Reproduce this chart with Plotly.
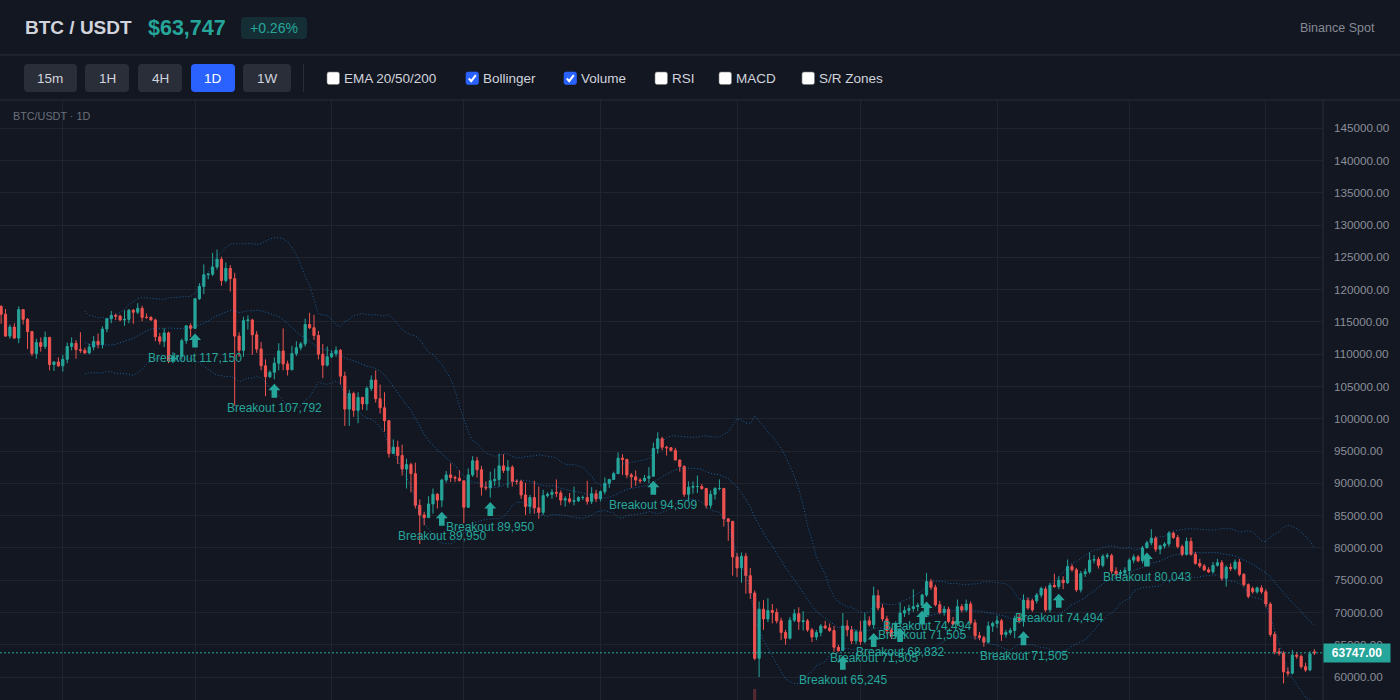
import pandas as pd
import plotly.graph_objects as go

# ---------------- data (prices in thousands of USDT) ----------------
start_date = "2025-08-18"
PRICE_UNIT = 1000

opens_k = [
    # Aug 18-31
    117.4,116.2,112.8,114.2,112.5,116.9,115.4,113.5,110.1,111.8,111.2,112.6,108.4,108.8,
    # Sep
    108.2,109.2,111.2,111.7,110.7,110.6,110.2,111.1,112.0,111.5,113.9,115.5,116.0,115.9,115.3,
    115.4,116.8,116.5,117.1,115.7,115.7,115.3,112.7,112.0,113.3,109.0,109.7,109.7,112.1,114.4,
    # Oct
    114.0,118.6,120.5,122.3,122.4,123.5,124.7,121.4,123.3,121.7,112.8,110.6,115.2,115.3,113.0,
    110.8,108.2,106.5,107.2,108.6,110.5,108.5,107.6,110.1,111.0,111.6,114.6,114.1,112.9,110.0,108.3,
    # Nov
    109.6,110.1,110.6,106.6,101.5,103.9,101.3,103.3,102.3,104.7,106.0,103.1,101.7,99.7,94.6,
    95.6,94.3,92.2,92.9,91.5,86.6,85.1,84.7,86.8,88.3,87.4,90.5,91.3,90.9,90.8,
    # Dec
    90.4,86.3,91.3,93.5,92.1,89.4,89.3,90.4,90.6,92.7,92.0,92.5,90.3,90.3,88.2,
    86.4,87.8,86.2,85.5,88.1,88.3,88.6,88.5,87.4,87.6,87.2,87.3,87.8,87.8,87.2,88.4,
    # Jan
    87.6,88.7,90.0,90.6,91.5,93.9,93.7,91.3,91.0,90.5,90.4,90.8,91.1,95.4,96.9,
    95.6,95.5,95.1,93.6,92.6,88.3,89.4,89.5,89.5,89.2,86.6,88.3,89.2,89.2,84.5,84.1,
    # Feb
    78.6,76.9,78.7,75.7,73.0,62.9,70.5,69.0,70.3,70.0,68.7,66.9,66.0,68.8,
    69.8,68.6,68.7,67.3,66.2,66.9,67.9,67.6,67.2,64.6,64.1,67.9,67.3,65.6,
    # Mar
    67.0,65.5,68.7,68.1,72.6,70.7,69.0,67.2,66.3,68.3,69.9,70.3,70.6,70.9,71.1,
    72.7,74.8,73.9,71.2,70.0,70.5,68.6,68.2,70.9,70.4,71.3,68.4,66.4,66.1,65.4,67.9,
    # Apr
    68.3,68.7,66.6,66.9,67.2,69.1,68.8,71.9,71.8,71.8,72.7,73.6,70.4,74.2,74.0,
    75.0,74.6,77.1,76.6,73.5,76.0,76.3,78.1,78.2,77.3,78.7,78.8,76.4,76.0,76.2,
    # May
    76.5,78.1,78.6,78.0,80.0,80.8,81.5,79.8,80.3,80.6,82.3,81.6,80.2,79.0,81.0,
    79.0,77.6,77.2,76.6,76.3,77.3,77.7,75.3,77.0,76.8,77.8,75.9,74.3,73.7,73.2,73.8,
    # Jun 1-12
    73.2,71.3,66.6,63.9,63.7,60.8,60.6,63.4,63.2,61.6,61.1,63.9,
]
highs_k = [
    117.6,117.0,114.6,114.8,117.4,117.0,115.6,113.6,112.4,112.6,113.5,112.7,108.9,109.5,
    109.9,111.8,112.6,112.2,113.4,111.0,111.6,112.8,113.2,114.3,115.5,116.7,116.3,116.1,116.8,
    117.0,117.0,117.9,117.5,116.3,115.9,115.5,113.3,114.0,113.5,110.3,109.8,112.4,114.4,114.8,
    118.6,121.0,123.9,122.6,125.7,126.2,125.1,124.2,123.8,122.6,113.4,115.8,116.0,115.5,113.6,
    111.9,109.2,107.5,109.5,111.7,114.0,109.0,111.3,112.0,111.9,115.5,116.4,116.1,113.6,111.6,111.2,
    110.6,111.2,110.8,107.3,104.5,104.2,104.1,103.4,105.0,106.7,107.5,105.3,104.1,99.8,96.8,
    96.6,96.0,93.8,93.2,93.2,87.5,85.6,88.0,89.2,88.5,90.7,91.9,93.1,91.2,92.0,
    90.4,92.3,94.2,94.1,92.7,90.3,91.8,92.3,94.6,94.5,93.6,92.8,90.6,90.5,90.1,
    88.2,90.4,89.5,89.0,88.6,89.1,90.6,88.9,88.0,88.5,89.5,88.0,88.1,90.4,89.4,89.0,
    88.9,90.9,90.7,91.8,94.8,94.5,93.8,91.6,92.0,90.8,91.3,92.5,96.3,97.9,97.2,
    95.8,95.6,95.5,93.7,92.8,90.3,90.3,91.2,89.9,89.3,88.9,89.4,90.6,89.3,84.6,84.2,
    79.2,79.3,79.2,76.9,73.4,71.7,71.9,72.2,71.3,70.6,69.2,67.3,69.3,70.5,
    70.8,70.2,69.0,67.6,67.3,68.2,68.7,68.3,67.9,65.0,69.9,68.8,67.9,67.3,
    68.7,69.9,69.4,74.0,73.5,71.3,69.5,67.6,68.6,71.5,70.9,71.2,73.6,71.5,72.9,
    76.1,75.2,74.3,71.8,71.0,70.9,69.3,72.0,71.3,72.0,71.7,68.9,67.0,66.4,68.6,68.6,
    69.5,69.0,67.3,67.6,69.5,69.8,72.8,72.3,72.1,73.0,74.0,74.0,74.6,76.0,75.6,
    75.6,78.2,77.5,76.9,76.4,76.8,79.3,78.9,78.6,79.0,79.2,79.1,77.0,76.6,77.0,
    78.4,79.0,78.9,80.3,81.1,82.9,81.8,80.5,80.9,82.6,82.5,82.0,80.5,81.6,81.6,
    79.4,78.3,77.5,77.0,77.8,78.3,78.1,77.3,77.6,78.2,78.3,76.1,74.5,74.0,74.0,74.2,
    73.6,71.6,67.0,64.5,64.0,61.5,64.2,63.9,63.5,62.2,64.0,64.3,
]
lows_k = [
    114.7,112.7,112.4,112.4,111.7,114.6,110.8,109.7,109.3,110.4,110.8,107.5,107.4,108.0,
    107.3,108.6,110.6,109.3,110.2,110.0,110.0,110.6,110.9,110.9,113.4,114.8,115.3,115.1,114.4,
    114.8,114.7,116.2,115.1,115.5,115.2,112.0,111.5,111.1,108.6,108.6,109.1,109.2,111.6,112.7,
    113.9,118.4,119.3,121.6,122.1,123.1,120.6,121.1,119.7,102.0,109.6,109.6,113.8,109.9,110.2,
    107.5,103.5,106.3,106.1,107.5,107.5,106.7,107.5,109.7,110.6,111.2,113.9,112.2,109.2,106.3,108.1,
    109.4,109.6,105.3,98.9,98.9,100.3,99.3,101.4,101.3,104.3,102.5,100.8,98.0,94.0,94.6,
    93.0,91.2,89.2,88.6,86.1,80.6,83.5,84.6,85.3,86.1,86.3,90.1,90.2,90.2,90.3,
    83.8,86.2,91.0,90.9,88.1,88.9,87.8,89.6,89.5,91.6,89.3,89.5,89.8,87.6,85.1,
    85.3,85.3,84.5,85.1,87.8,87.6,87.9,86.6,86.4,86.9,86.6,87.1,87.4,86.7,86.8,87.1,
    87.2,88.3,89.3,90.5,91.5,91.3,90.8,89.3,89.6,90.0,90.2,90.0,91.1,94.6,95.1,
    94.3,94.9,93.6,91.8,87.9,87.3,88.4,88.5,89.0,86.1,86.1,87.5,88.9,83.3,81.1,75.7,
    75.5,74.6,72.9,72.1,62.6,60.0,67.3,68.5,68.3,68.3,65.7,65.0,65.8,68.5,
    67.3,67.2,67.0,65.4,65.7,66.3,67.4,67.0,63.9,63.9,64.0,66.3,65.1,65.1,
    65.0,65.2,67.8,67.5,70.3,68.6,66.7,65.9,65.9,68.3,69.3,69.6,70.1,70.2,71.0,
    72.4,73.5,70.9,69.7,69.5,68.3,68.0,67.9,70.0,70.1,68.1,65.8,65.7,64.7,65.2,67.0,
    67.6,65.6,66.1,66.5,66.0,68.3,67.8,70.4,70.1,71.4,72.3,70.1,70.0,73.8,73.6,
    73.6,74.4,76.3,73.2,73.1,75.5,76.0,77.6,76.8,77.0,78.3,76.0,75.6,75.2,75.6,
    76.2,77.6,77.8,77.6,80.0,80.4,79.4,79.0,79.9,80.2,81.4,79.9,78.7,78.8,78.8,
    77.4,76.9,76.4,76.1,76.0,77.1,74.9,74.0,76.4,76.5,75.6,74.0,72.2,72.9,72.9,72.9,
    70.8,66.2,63.5,63.3,59.0,60.1,60.4,62.8,61.3,60.8,60.9,63.4,
]
closes_k = [
    116.2,112.8,114.2,112.5,116.9,115.4,113.5,110.1,111.8,111.2,112.6,108.4,108.8,108.2,
    109.2,111.2,111.7,110.7,110.6,110.2,111.1,112.0,111.5,113.9,115.5,116.0,115.9,115.3,115.4,
    116.8,116.5,117.1,115.7,115.7,115.3,112.7,112.0,113.3,109.0,109.7,109.7,112.1,114.4,114.0,
    118.6,120.5,122.3,122.4,123.5,124.7,121.4,123.3,121.7,112.8,110.6,115.2,115.3,113.0,110.8,
    108.2,106.5,107.2,108.6,110.5,108.5,107.6,110.1,111.0,111.6,114.6,114.1,112.9,110.0,108.3,109.6,
    110.1,110.6,106.6,101.5,103.9,101.3,103.3,102.3,104.7,106.0,103.1,101.7,99.7,94.6,95.6,
    94.3,92.2,92.9,91.5,86.6,85.1,84.7,86.8,88.3,87.4,90.5,91.3,90.9,90.8,90.4,
    86.3,91.3,93.5,92.1,89.4,89.3,90.4,90.6,92.7,92.0,92.5,90.3,90.3,88.2,86.4,
    87.8,86.2,85.5,88.1,88.3,88.6,88.5,87.4,87.6,87.2,87.3,87.8,87.8,87.2,88.4,87.6,
    88.7,90.0,90.6,91.5,93.9,93.7,91.3,91.0,90.5,90.4,90.8,91.1,95.4,96.9,95.6,
    95.5,95.1,93.6,92.6,88.3,89.4,89.5,89.5,89.2,86.6,88.3,89.2,89.2,84.5,84.1,78.6,
    76.9,78.7,75.7,73.0,62.9,70.5,69.0,70.3,70.0,68.7,66.9,66.0,68.8,69.8,
    68.6,68.7,67.3,66.2,66.9,67.9,67.6,67.2,64.6,64.1,67.9,67.3,65.6,67.0,
    65.5,68.7,68.1,72.6,70.7,69.0,67.2,66.3,68.3,69.9,70.3,70.6,70.9,71.1,72.7,
    74.8,73.9,71.2,70.0,70.5,68.6,68.2,70.9,70.4,71.3,68.4,66.4,66.1,65.4,67.9,68.3,
    68.7,66.6,66.9,67.2,69.1,68.8,71.9,70.7,70.4,72.7,73.7,70.4,74.2,74.0,75.0,
    74.6,77.1,76.6,73.5,76.0,76.3,78.1,78.2,77.3,78.7,78.8,76.4,76.0,76.2,76.5,
    78.1,78.6,78.0,80.0,80.8,81.5,79.8,80.3,80.6,82.3,81.6,80.2,79.0,81.0,79.0,
    77.6,77.2,76.6,76.3,77.3,77.7,75.3,77.0,76.8,77.8,75.9,74.3,72.5,73.2,73.8,73.2,
    71.3,66.6,63.9,63.7,60.8,60.6,63.4,63.2,61.6,61.1,63.6,63.747,
]

breakout_dates = ["2025-10-01", "2025-10-19", "2025-11-26", "2025-12-07", "2026-01-13",
                  "2026-02-25", "2026-03-04", "2026-03-10", "2026-03-15", "2026-03-16",
                  "2026-04-07", "2026-04-15", "2026-05-05"]
breakout_levels = [117150, 107792, 89950, 89950, 94509,
                   65245, 71505, 68832, 71505, 74494,
                   71505, 74494, 80043]

volume_dates = ["2026-02-05"]
volume_values = [95000]

timeframes = ["15m", "1H", "4H", "1D", "1W"]
active_timeframe = "1D"
indicators = ["EMA 20/50/200", "Bollinger", "Volume", "RSI", "MACD", "S/R Zones"]
indicators_on = [False, True, True, False, False, False]

# ---------------- derived ----------------
opens = [v * PRICE_UNIT for v in opens_k]
highs = [v * PRICE_UNIT for v in highs_k]
lows = [v * PRICE_UNIT for v in lows_k]
closes = [v * PRICE_UNIT for v in closes_k]
dates = pd.date_range(start_date, periods=len(closes), freq="D")

cs = pd.Series(closes)
bb_mid = cs.rolling(20).mean()
bb_sd = cs.rolling(20).std(ddof=0)
bb_up = bb_mid + 2 * bb_sd
bb_lo = bb_mid - 2 * bb_sd

# ---------------- style ----------------
BG = "#131722"
GRID = "#20242f"
BORDER = "#2a2e39"
UP = "#26a69a"
DN = "#ef5350"
TXT = "#d1d4dc"
MUTED = "#868a94"
BLUE = "#2962ff"
FONT = "Liberation Sans, Arial, sans-serif"

W, H = 1400, 700
PL, PR, PT, PB = 0, 1323, 100, 700
Y_RANGE = [56440, 149370]


def px(x):
    return (x - PL) / (PR - PL)


def py(y):
    return (PB - y) / (PB - PT)


def rrect(x0, y0, x1, y1, r):
    pts = [
        ("M", [(x0 + r, y0)]), ("L", [(x1 - r, y0)]), ("Q", [(x1, y0), (x1, y0 + r)]),
        ("L", [(x1, y1 - r)]), ("Q", [(x1, y1), (x1 - r, y1)]), ("L", [(x0 + r, y1)]),
        ("Q", [(x0, y1), (x0, y1 - r)]), ("L", [(x0, y0 + r)]), ("Q", [(x0, y0), (x0 + r, y0)]),
    ]
    s = ""
    for cmd, ps in pts:
        s += cmd + " " + " ".join(f"{px(a):.6f},{py(b):.6f}" for a, b in ps) + " "
    return s + "Z"


fig = go.Figure()

# Bollinger bands (dotted)
band_col = "rgba(33,150,243,0.55)"
mid_col = "rgba(33,150,243,0.6)"
for series, col in ((bb_up, band_col), (bb_lo, band_col), (bb_mid, mid_col)):
    fig.add_trace(go.Scatter(x=dates, y=series, mode="lines", hoverinfo="skip",
                             line=dict(color=col, width=1, dash="1px,2px"), showlegend=False))

# volume (only the spike reaches into the visible area)
fig.add_trace(go.Bar(x=pd.to_datetime(volume_dates), y=volume_values, yaxis="y2",
                     width=0.7 * 86400000, marker=dict(color="rgba(239,83,80,0.3)", line=dict(width=0)),
                     hoverinfo="skip", showlegend=False))

# candles
fig.add_trace(go.Candlestick(
    x=dates, open=opens, high=highs, low=lows, close=closes,
    increasing=dict(line=dict(color=UP, width=1), fillcolor=UP),
    decreasing=dict(line=dict(color=DN, width=1), fillcolor=DN),
    whiskerwidth=0, hoverinfo="skip", showlegend=False))

shapes = []
ann = []

# last price line
shapes.append(dict(type="line", xref="paper", yref="y", x0=0, x1=1, y0=closes[-1], y1=closes[-1],
                   line=dict(color=UP, width=1, dash="2px,2px"), layer="above"))
ann.append(dict(xref="paper", yref="y", x=1, y=closes[-1], xanchor="left", yanchor="middle",
                text=f"<b>{closes[-1]:.2f}</b>", showarrow=False, bgcolor=UP, borderpad=2,
                width=62, height=14, align="center",
                font=dict(family=FONT, size=12, color="#ffffff")))

# breakout markers
ARROW = "M0,-4.5 L6,-11 L2.8,-11 L2.8,-18.5 L-2.8,-18.5 L-2.8,-11 L-6,-11 Z"
date_index = {d.strftime("%Y-%m-%d"): i for i, d in enumerate(dates)}
for d, lvl in zip(breakout_dates, breakout_levels):
    lo = lows[date_index[d]]
    shapes.append(dict(type="path", xref="x", yref="y", xsizemode="pixel", ysizemode="pixel",
                       xanchor=d, yanchor=lo, path=ARROW, fillcolor=UP, line=dict(width=0),
                       layer="above"))
    ann.append(dict(x=d, y=lo, xref="x", yref="y", yshift=-29, showarrow=False,
                    text=f"Breakout {lvl:,}", xanchor="center", yanchor="middle",
                    font=dict(family=FONT, size=12, color=UP)))

# price-scale border
shapes.append(dict(type="line", xref="paper", yref="paper", x0=1, x1=1, y0=0, y1=1,
                   line=dict(color=BORDER, width=1)))
# header / toolbar separators
for yy in (55, 100):
    shapes.append(dict(type="line", xref="paper", yref="paper", x0=px(0), x1=px(W),
                       y0=py(yy), y1=py(yy), line=dict(color=BORDER, width=1)))

# header texts
ann.append(dict(xref="paper", yref="paper", x=px(24), y=py(28), xanchor="left", yanchor="middle",
                text="<b>BTC / USDT</b>", showarrow=False, borderpad=0,
                font=dict(family=FONT, size=19, color=TXT)))
ann.append(dict(xref="paper", yref="paper", x=px(147), y=py(28), xanchor="left", yanchor="middle",
                text=f"<b>${closes[-1]:,.0f}</b>", showarrow=False, borderpad=0,
                font=dict(family=FONT, size=21.5, color=UP)))
shapes.append(dict(type="path", xref="paper", yref="paper", path=rrect(241, 17, 307, 39, 4),
                   fillcolor="rgba(38,166,154,0.16)", line=dict(width=0)))
ann.append(dict(xref="paper", yref="paper", x=px(274), y=py(28), xanchor="center", yanchor="middle",
                text="+0.26%", showarrow=False, borderpad=0,
                font=dict(family=FONT, size=14, color=UP)))
ann.append(dict(xref="paper", yref="paper", x=px(1376), y=py(28), xanchor="right", yanchor="middle",
                text="Binance Spot", showarrow=False, borderpad=0,
                font=dict(family=FONT, size=12.5, color=MUTED)))

# timeframe buttons
btn_x = [(24, 77), (85, 129), (138, 182), (191, 235), (243, 291)]
for (x0, x1), lab in zip(btn_x, timeframes):
    active = lab == active_timeframe
    shapes.append(dict(type="path", xref="paper", yref="paper", path=rrect(x0, 64, x1, 92, 4),
                       fillcolor=BLUE if active else "#2a2e39", line=dict(width=0)))
    ann.append(dict(xref="paper", yref="paper", x=px((x0 + x1) / 2), y=py(78), xanchor="center",
                    yanchor="middle", text=lab, showarrow=False, borderpad=0,
                    font=dict(family=FONT, size=13.5, color="#ffffff" if active else TXT)))
shapes.append(dict(type="line", xref="paper", yref="paper", x0=px(303.5), x1=px(303.5),
                   y0=py(64), y1=py(92), line=dict(color=BORDER, width=1)))

# indicator checkboxes
cb_x = [327, 466, 564, 655, 719, 802]
for cx, lab, on in zip(cb_x, indicators, indicators_on):
    shapes.append(dict(type="path", xref="paper", yref="paper", path=rrect(cx, 72, cx + 12.5, 84.5, 2),
                       fillcolor=BLUE if on else "#ffffff",
                       line=dict(color=BLUE if on else "#767676", width=0.6)))
    if on:
        shapes.append(dict(type="path", xref="paper", yref="paper",
                           path=f"M {px(cx + 2.8)},{py(78.5)} L {px(cx + 5.2)},{py(81.2)} L {px(cx + 9.8)},{py(75.2)}",
                           line=dict(color="#ffffff", width=2)))
    ann.append(dict(xref="paper", yref="paper", x=px(cx + 16), y=py(78.5), xanchor="left",
                    yanchor="middle", text=lab, showarrow=False, borderpad=0,
                    font=dict(family=FONT, size=13.5, color=TXT)))

# pane caption
ann.append(dict(xref="paper", yref="paper", x=px(12), y=py(116), xanchor="left", yanchor="middle",
                text="BTC/USDT · 1D", showarrow=False, borderpad=0,
                font=dict(family=FONT, size=10.8, color="#6b6f7a")))

fig.update_layout(
    width=W, height=H,
    margin=dict(l=PL, r=W - PR, t=PT, b=H - PB, pad=0),
    paper_bgcolor=BG, plot_bgcolor=BG,
    showlegend=False, hovermode=False,
    font=dict(family=FONT, color=MUTED),
    shapes=shapes, annotations=ann,
    xaxis=dict(type="date", range=["2025-08-17 18:00", "2026-06-13 23:00"],
               dtick="M1", tick0="2025-09-01", showticklabels=False, ticks="",
               showgrid=True, gridcolor=GRID, gridwidth=1, zeroline=False, showline=False,
               rangeslider=dict(visible=False), fixedrange=True),
    yaxis=dict(side="right", range=Y_RANGE, dtick=5000, tick0=0, tickformat=".2f",
               showgrid=True, gridcolor=GRID, gridwidth=1, zeroline=False, showline=False,
               ticks="", ticklabelstandoff=10, fixedrange=True,
               tickfont=dict(family=FONT, size=11.7, color="#8a8e98")),
    yaxis2=dict(overlaying="y", range=[0, volume_values[0] * 600 / 11], visible=False,
                fixedrange=True),
)

fig.write_html("out.html", config={"displayModeBar": False})
